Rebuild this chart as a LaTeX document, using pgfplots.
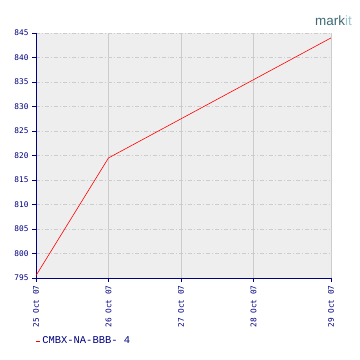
\documentclass[border=0pt]{standalone}
\usepackage{pgfplots}
\pgfplotsset{compat=1.18}
\usepackage{fontspec}
\setmainfont{Liberation Sans}
\newfontfamily\pixmono{DejaVu Sans Mono}
\newfontfamily\legmono{Liberation Mono}
\definecolor{navy}{HTML}{000080}
\definecolor{bgc}{HTML}{EEEEEE}
\definecolor{gridc}{HTML}{CCCCCC}
\definecolor{logodark}{HTML}{3E6A78}
\definecolor{logolight}{HTML}{9CC6D0}
\begin{document}
\begin{tikzpicture}[x=1bp,y=1bp]
\path[fill=white] (0,0) rectangle (360,360);
\node[anchor=base east, inner sep=0pt, font=\fontsize{13.5}{13.5}\selectfont] at (352,335) {\textcolor{logodark}{mark}\textcolor{logolight}{it}};
\begin{axis}[
  at={(36bp,82bp)}, anchor=south west,
  width=295bp, height=245bp, scale only axis,
  xmin=0, xmax=4.07, ymin=795, ymax=845,
  axis background/.style={fill=bgc},
  axis x line*=bottom, axis y line*=left,
  axis line style={navy, line width=0.8pt, -},
  xtick={0,1,2,3,4.07},
  xticklabels={25 Oct 07,26 Oct 07,27 Oct 07,28 Oct 07,29 Oct 07},
  ytick={795,800,...,845},
  yticklabels={795,800,805,810,815,820,825,830,835,840,845},
  tick align=outside, tick pos=left,
  major tick length=4bp,
  tick style={navy, line width=0.8pt},
  ticklabel style={font=\pixmono\fontsize{7.8}{7.8}\selectfont, text=navy},
  x tick label style={rotate=90, anchor=east},
  xmajorgrids, ymajorgrids,
  x grid style={gridc, line width=0.6pt},
  y grid style={gridc, line width=0.6pt, dash pattern=on 4pt off 2pt on 1pt off 2pt},
  legend style={at={(axis description cs:0.0,-0.257)}, anchor=west, draw=none, fill=none,
    font=\legmono\fontsize{10.5}{10.5}\selectfont, text=navy, inner sep=0pt},
  legend image code/.code={\draw[red, line width=0.6pt] (0bp,0bp)--(3.5bp,0bp);},
  clip=false,
]
\addplot[red, line width=0.6pt] coordinates {(0,795.5) (1,819.5) (4.07,844.0)};
\addlegendentry{CMBX-NA-BBB- 4}
\draw[gridc, line width=0.6pt] (axis cs:4.07,795) -- (axis cs:4.07,845);
\end{axis}
\end{tikzpicture}
\end{document}
